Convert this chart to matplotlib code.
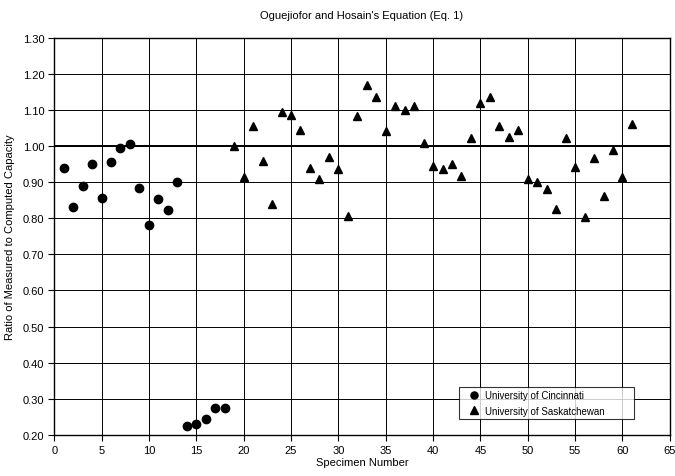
import matplotlib.pyplot as plt
import numpy as np

plt.rcParams['font.family'] = ['Liberation Sans', 'DejaVu Sans']

# University of Cincinnati specimens
uc_specimen = list(range(1, 19))
uc_ratio = [0.94, 0.83, 0.89, 0.95, 0.855, 0.955, 0.995, 1.005, 0.883,
            0.78, 0.852, 0.823, 0.90, 0.225, 0.23, 0.244, 0.274, 0.274]

# University of Saskatchewan specimens
us_specimen = list(range(19, 62))
us_ratio = [1.00, 0.915, 1.054, 0.958, 0.839, 1.094, 1.086, 1.044, 0.938,
            0.91, 0.97, 0.936, 0.805, 1.082, 1.17, 1.135, 1.041, 1.111,
            1.099, 1.112, 1.009, 0.946, 0.935, 0.95, 0.916, 1.023, 1.12,
            1.135, 1.055, 1.025, 1.045, 0.91, 0.90, 0.88, 0.826, 1.022,
            0.943, 0.804, 0.968, 0.862, 0.99, 0.913, 1.061]

fig = plt.figure(figsize=(6.75, 4.77), dpi=100)
ax = fig.add_axes([0.0803, 0.086, 0.912, 0.833])

ax.set_xlim(0, 65)
ax.set_ylim(0.2, 1.3)
ax.set_xticks(np.arange(0, 66, 5))
ax.set_yticks(np.arange(0.2, 1.31, 0.1))
ax.set_yticklabels([f"{v:.2f}" for v in np.arange(0.2, 1.31, 0.1)])
ax.grid(True, color='black', linewidth=0.7)
ax.set_axisbelow(True)
ax.axhline(1.0, color='black', linewidth=1.4, zorder=1)

for s in ax.spines.values():
    s.set_linewidth(1.0)
ax.tick_params(direction='out', length=4, width=0.8, labelsize=8, pad=3)

ax.plot(uc_specimen, uc_ratio, 'o', color='black', markersize=6,
        label='University of Cincinnati', zorder=3)
ax.plot(us_specimen, us_ratio, '^', color='black', markersize=6,
        label='University of Saskatchewan', zorder=3)

ax.set_title("Oguejiofor and Hosain's Equation (Eq. 1)", fontsize=8, pad=14)
ax.set_xlabel("Specimen Number", fontsize=8, labelpad=2)
ax.set_ylabel("Ratio of Measured to Computed Capacity", fontsize=8, labelpad=6)

leg = ax.legend(loc='lower left', bbox_to_anchor=(0.6576, 0.0403, 0.2843, 0.0855),
                mode='expand', fontsize=7, frameon=True, fancybox=False,
                handlelength=2.3, handletextpad=0.0, borderpad=0.35,
                labelspacing=0.55, borderaxespad=0, markerscale=0.85)
leg.get_frame().set_edgecolor('black')
leg.get_frame().set_linewidth(0.8)

fig.savefig('out.png', dpi=100)
